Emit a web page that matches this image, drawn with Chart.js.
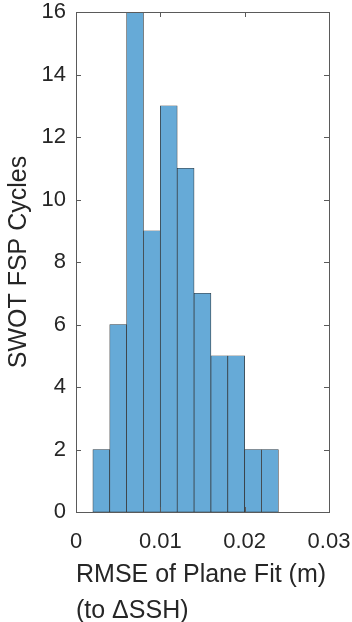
<!DOCTYPE html>
<html>
<head>
<meta charset="utf-8">
<script src="https://cdn.jsdelivr.net/npm/chart.js@4.4.1/dist/chart.umd.min.js"></script>
<style>
  html, body { margin: 0; padding: 0; background: #fff; }
  #wrap { width: 352px; height: 622px; }
</style>
</head>
<body>
<div id="wrap"><canvas id="histChart" width="352" height="622"></canvas></div>
<script>
// histogram bins (m) and counts per bin
const binEdges = [0.002, 0.004, 0.006, 0.008, 0.010, 0.012, 0.014, 0.016, 0.018, 0.020, 0.022, 0.024];
const cycleCounts = [2, 6, 16, 9, 13, 11, 7, 5, 5, 2, 2];
const xTicks = [0, 0.01, 0.02, 0.03];
const yTicks = [0, 2, 4, 6, 8, 10, 12, 14, 16];

const axisColor = '#5a5a5a';
const textColor = '#262626';
const fontFamily = '"Liberation Sans", Arial, Helvetica, sans-serif';

// bar centres from the bin edges
const points = cycleCounts.map((c, i) => ({ x: (binEdges[i] + binEdges[i + 1]) / 2, y: c }));

// box around the axes plus inward tick marks on all four sides (matlab style)
const boxPlugin = {
    id: 'boxTicks',
    afterDraw(chart) {
        const ctx = chart.ctx;
        const area = chart.chartArea;
        const xs = chart.scales.x;
        const ys = chart.scales.y;
        const len = 5;
        ctx.save();
        ctx.strokeStyle = axisColor;
        ctx.lineWidth = 1;
        ctx.beginPath();
        xTicks.forEach(v => {
            const px = Math.round(xs.getPixelForValue(v)) + 0.5;
            ctx.moveTo(px, area.bottom); ctx.lineTo(px, area.bottom - len);
            ctx.moveTo(px, area.top); ctx.lineTo(px, area.top + len);
        });
        yTicks.forEach(v => {
            const py = Math.round(ys.getPixelForValue(v)) + 0.5;
            ctx.moveTo(area.left, py); ctx.lineTo(area.left + len, py);
            ctx.moveTo(area.right, py); ctx.lineTo(area.right - len, py);
        });
        ctx.stroke();
        ctx.strokeRect(Math.round(area.left) + 0.5, Math.round(area.top) + 0.5,
            Math.round(area.right - area.left), Math.round(area.bottom - area.top));
        ctx.restore();
    }
};

const ctx = document.getElementById('histChart').getContext('2d');

new Chart(ctx, {
    type: 'bar',
    data: {
        datasets: [{
            data: points,
            backgroundColor: '#66aad7',
            borderColor: '#303030',
            borderWidth: 0.7,
            borderSkipped: false,
            barPercentage: 1,
            categoryPercentage: 1
        }]
    },
    options: {
        responsive: false,
        animation: false,
        layout: { padding: { top: 12, right: 23, left: 0, bottom: 0 } },
        plugins: {
            legend: { display: false },
            tooltip: { enabled: false }
        },
        scales: {
            x: {
                type: 'linear',
                offset: false,
                min: 0,
                max: 0.03,
                grid: { display: false, drawTicks: false, offset: false },
                border: { display: false },
                afterBuildTicks: axis => { axis.ticks = xTicks.map(v => ({ value: v })); },
                afterFit: axis => {
                    axis.height = 110;
                    axis.paddingLeft = 0;
                    axis.paddingRight = 0;
                },
                ticks: {
                    color: textColor,
                    padding: 17,
                    maxRotation: 0,
                    font: { family: fontFamily, size: 22 },
                    callback: v => String(+v.toFixed(2))
                },
                title: {
                    display: true,
                    text: ['RMSE of Plane Fit (m)', '(to \u0394SSH)'],
                    align: 'start',
                    color: textColor,
                    font: { family: fontFamily, size: 25, lineHeight: 1.45 },
                    padding: { top: 0, bottom: -7 }
                }
            },
            y: {
                min: 0,
                max: 16,
                grid: { display: false, drawTicks: false },
                border: { display: false },
                afterBuildTicks: axis => { axis.ticks = yTicks.map(v => ({ value: v })); },
                afterFit: axis => {
                    axis.width = 76;
                    axis.paddingTop = 0;
                    axis.paddingBottom = 0;
                },
                ticks: {
                    color: textColor,
                    padding: 10,
                    font: { family: fontFamily, size: 22 }
                },
                title: {
                    display: true,
                    text: 'SWOT FSP Cycles',
                    color: textColor,
                    font: { family: fontFamily, size: 25 },
                    padding: { top: 4, bottom: 0 }
                }
            }
        }
    },
    plugins: [boxPlugin]
});
</script>
</body>
</html>
